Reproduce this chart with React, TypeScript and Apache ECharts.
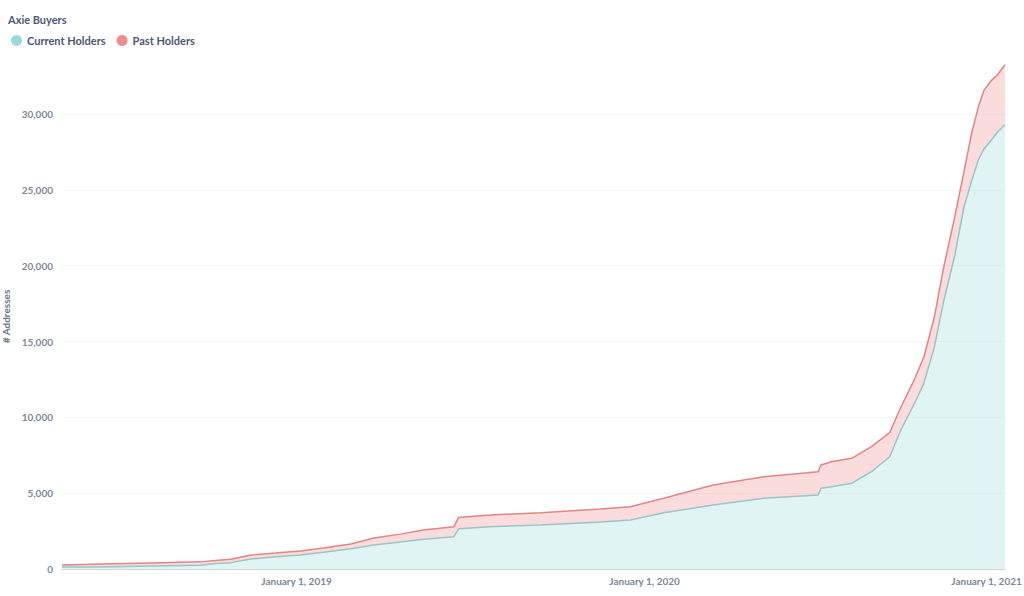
import React, { useEffect, useRef } from "react";
import * as echarts from "echarts";

const dates = [
  "2018-04-30", "2018-06-10", "2018-08-01", "2018-09-22", "2018-10-08", "2018-10-24",
  "2018-11-14", "2018-12-10", "2019-01-05", "2019-01-29", "2019-02-27", "2019-03-23",
  "2019-04-20", "2019-05-14", "2019-06-15", "2019-06-20", "2019-07-23", "2019-09-14",
  "2019-11-16", "2019-12-17", "2020-01-21", "2020-03-13", "2020-05-05", "2020-07-01",
  "2020-07-04", "2020-07-15", "2020-08-05", "2020-08-26", "2020-09-14", "2020-09-26",
  "2020-10-10", "2020-10-20", "2020-10-31", "2020-11-10", "2020-11-21", "2020-12-01",
  "2020-12-09", "2020-12-16", "2020-12-22", "2020-12-30", "2021-01-05", "2021-01-13",
];

const currentHolders = [
  130, 140, 190, 240, 370, 420,
  660, 800, 920, 1100, 1330, 1580,
  1780, 1960, 2130, 2650, 2790, 2900,
  3100, 3230, 3710, 4220, 4660, 4880,
  5320, 5430, 5650, 6420, 7400, 9200,
  10900, 12260, 14660, 17740, 20590, 23870,
  25600, 26970, 27700, 28300, 28800, 29300,
];

const pastHolders = [
  130, 190, 210, 230, 190, 230,
  260, 250, 270, 280, 320, 460,
  520, 610, 660, 750, 770, 810,
  850, 880, 950, 1320, 1430, 1540,
  1540, 1640, 1650, 1650, 1590, 1500,
  1600, 1740, 1980, 2260, 2550, 2330,
  3150, 3490, 3880, 3940, 3770, 3950,
];

const monthNames = [
  "January", "February", "March", "April", "May", "June",
  "July", "August", "September", "October", "November", "December",
];

const FONT = "Lato, 'Noto Sans', sans-serif";
const DAY = 24 * 3600 * 1000;

function toLocalTime(s: string): number {
  const [y, m, d] = s.split("-").map(Number);
  return new Date(y, m - 1, d).getTime();
}

export default function App() {
  const ref = useRef<HTMLDivElement>(null);

  useEffect(() => {
    document.body.style.margin = "0";
    if (!ref.current) return;
    const chart = echarts.init(ref.current, null, { renderer: "svg" });

    const curData = dates.map((d, i) => [toLocalTime(d), currentHolders[i]]);
    const pastData = dates.map((d, i) => [toLocalTime(d), pastHolders[i]]);
    const lastDate = new Date(toLocalTime(dates[dates.length - 1]));

    chart.setOption({
      animation: false,
      backgroundColor: "#ffffff",
      title: {
        text: "Axie Buyers",
        left: 3,
        top: 9,
        textStyle: {
          fontFamily: FONT,
          fontSize: 11,
          fontWeight: "bold",
          color: "#4c5773",
        },
      },
      legend: {
        left: 6,
        top: 30,
        itemWidth: 11,
        itemHeight: 11,
        itemGap: 11,
        icon: "circle",
        textStyle: {
          fontFamily: FONT,
          fontSize: 11,
          fontWeight: "bold",
          color: "#4c5773",
        },
        data: [
          { name: "Current Holders", itemStyle: { color: "#98D9D9" } },
          { name: "Past Holders", itemStyle: { color: "#EF8C8C" } },
        ],
      },
      grid: {
        left: 62,
        right: 19,
        top: 64,
        bottom: 27,
        containLabel: false,
        outerBoundsMode: "none",
      },
      xAxis: {
        type: "time",
        min: toLocalTime(dates[0]),
        max: toLocalTime(dates[dates.length - 1]),
        minInterval: 365 * DAY,
        maxInterval: 366 * DAY,
        axisLine: { show: true, lineStyle: { color: "#cfd6dd", width: 1 } },
        axisTick: { show: false },
        splitLine: { show: false },
        axisLabel: {
          formatter: (value: number) => {
            const d = new Date(value);
            if (d.getMonth() !== 0 || d.getDate() !== 1) return "";
            const txt = `${monthNames[d.getMonth()]} ${d.getDate()}, ${d.getFullYear()}`;
            if (d.getFullYear() === lastDate.getFullYear()) return `{last|${txt}}`;
            return txt;
          },
          rich: {
            last: {
              fontFamily: FONT,
              fontSize: 10,
              fontWeight: "bold",
              color: "#7c8797",
              padding: [0, 14, 0, 0],
            },
          },
          showMinLabel: false,
          showMaxLabel: false,
          fontFamily: FONT,
          fontSize: 10,
          fontWeight: "bold",
          color: "#7c8797",
          margin: 7,
          hideOverlap: false,
        },
      },
      yAxis: {
        type: "value",
        min: 0,
        max: 33300,
        interval: 5000,
        name: "# Addresses",
        nameLocation: "middle",
        nameGap: 47,
        nameTextStyle: {
          fontFamily: FONT,
          fontSize: 10,
          fontWeight: "bold",
          color: "#6b7785",
        },
        axisLine: { show: false },
        axisTick: { show: false },
        axisLabel: {
          showMaxLabel: false,
          formatter: (v: number) => v.toLocaleString("en-US"),
          fontFamily: FONT,
          fontSize: 10,
          fontWeight: "bold",
          color: "#7c8797",
          margin: 9,
        },
        splitLine: {
          show: true,
          showMaxLine: false,
          showMinLine: false,
          lineStyle: { color: "#f5f5f5", width: 1 },
        },
      },
      series: [
        {
          name: "Current Holders",
          type: "line",
          stack: "total",
          data: curData,
          showSymbol: false,
          symbol: "none",
          itemStyle: { color: "#98D9D9" },
          lineStyle: { color: "#9cc3c6", width: 1.5 },
          areaStyle: { color: "#98D9D9", opacity: 0.3 },
        },
        {
          name: "Past Holders",
          type: "line",
          stack: "total",
          data: pastData,
          showSymbol: false,
          symbol: "none",
          itemStyle: { color: "#EF8C8C" },
          lineStyle: { color: "#e38484", width: 1.5 },
          areaStyle: { color: "#EF8C8C", opacity: 0.3 },
        },
      ],
    });

    return () => {
      chart.dispose();
    };
  }, []);

  return <div ref={ref} style={{ width: 1024, height: 596 }} />;
}
